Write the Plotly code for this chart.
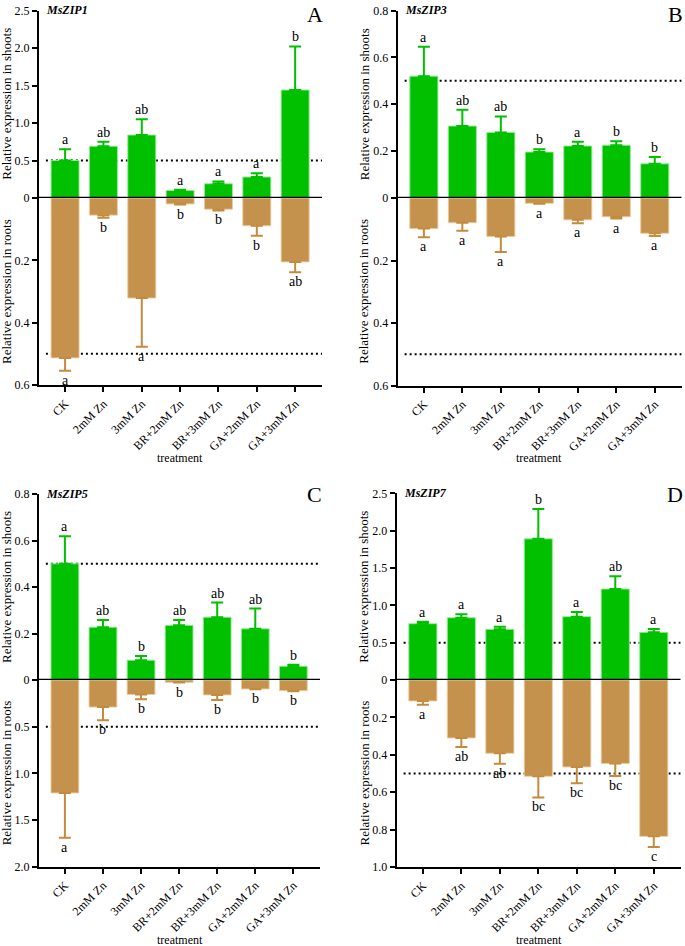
import plotly.graph_objects as go

categories = ["CK", "2mM Zn", "3mM Zn", "BR+2mM Zn", "BR+3mM Zn", "GA+2mM Zn", "GA+3mM Zn"]

# Panel A : MsZIP1
a_shoot = [0.50, 0.69, 0.84, 0.10, 0.19, 0.28, 1.44]
a_shoot_sd = [0.15, 0.06, 0.21, 0.01, 0.03, 0.05, 0.58]
a_root = [0.513, 0.055, 0.321, 0.019, 0.036, 0.089, 0.205]
a_root_sd = [0.041, 0.008, 0.156, 0.002, 0.004, 0.032, 0.033]
a_shoot_let = ["a", "ab", "ab", "a", "a", "a", "b"]
a_root_let = ["a", "b", "a", "b", "b", "b", "ab"]

# Panel B : MsZIP3
b_shoot = [0.52, 0.307, 0.28, 0.196, 0.222, 0.225, 0.146]
b_shoot_sd = [0.125, 0.07, 0.068, 0.012, 0.018, 0.017, 0.029]
b_root = [0.098, 0.079, 0.123, 0.017, 0.07, 0.06, 0.113]
b_root_sd = [0.028, 0.026, 0.05, 0.001, 0.011, 0.006, 0.009]
b_shoot_let = ["a", "ab", "ab", "b", "a", "b", "b"]
b_root_let = ["a", "a", "a", "a", "a", "a", "a"]

# Panel C : MsZIP5
c_shoot = [0.50, 0.227, 0.085, 0.235, 0.27, 0.22, 0.059]
c_shoot_sd = [0.118, 0.031, 0.018, 0.023, 0.063, 0.087, 0.007]
c_root = [1.21, 0.29, 0.155, 0.025, 0.16, 0.096, 0.114]
c_root_sd = [0.48, 0.14, 0.052, 0.002, 0.054, 0.004, 0.006]
c_shoot_let = ["a", "ab", "b", "ab", "ab", "ab", "b"]
c_root_let = ["a", "b", "b", "b", "b", "b", "b"]

# Panel D : MsZIP7
d_shoot = [0.754, 0.834, 0.678, 1.89, 0.848, 1.218, 0.638]
d_shoot_sd = [0.026, 0.046, 0.036, 0.40, 0.062, 0.172, 0.045]
d_root = [0.112, 0.31, 0.392, 0.515, 0.465, 0.446, 0.836]
d_root_sd = [0.02, 0.048, 0.056, 0.113, 0.087, 0.067, 0.057]
d_shoot_let = ["a", "a", "a", "b", "a", "ab", "a"]
d_root_let = ["a", "ab", "ab", "bc", "bc", "bc", "c"]

shoot_ticks_A = ["0", "0.5", "1.0", "1.5", "2.0", "2.5"]
root_ticks_A = ["0.2", "0.4", "0.6"]
shoot_ticks_B = ["0", "0.2", "0.4", "0.6", "0.8"]
root_ticks_B = ["0.2", "0.4", "0.6"]
shoot_ticks_C = ["0", "0.2", "0.4", "0.6", "0.8"]
root_ticks_C = ["0.5", "1.0", "1.5", "2.0"]
shoot_ticks_D = ["0", "0.5", "1.0", "1.5", "2.0", "2.5"]
root_ticks_D = ["0.2", "0.4", "0.6", "0.8", "1.0"]

W, H = 685, 946
FONT = "Liberation Serif, Times New Roman, serif"
GREEN = "#00C000"
TAN = "#C4924C"
TAN_ERR = "#C48A3E"


def fx(p):
    return p / W


def fy(p):
    return 1 - p / H


panels = [
    dict(gene="MsZIP1", tag="A", shoot=a_shoot, ssd=a_shoot_sd, root=a_root, rsd=a_root_sd,
         slet=a_shoot_let, rlet=a_root_let, sticks=shoot_ticks_A, rticks=root_ticks_A,
         x0=39, x1=322, top=10.5, mid=198, bot=385, title_x=6.5, tag_x=315, tag_y=0,
         treat_x=180, treat_y=458),
    dict(gene="MsZIP3", tag="B", shoot=b_shoot, ssd=b_shoot_sd, root=b_root, rsd=b_root_sd,
         slet=b_shoot_let, rlet=b_root_let, sticks=shoot_ticks_B, rticks=root_ticks_B,
         x0=397.7, x1=681.7, top=10.5, mid=198, bot=385.5, title_x=364, tag_x=675, tag_y=0,
         treat_x=539, treat_y=458),
    dict(gene="MsZIP5", tag="C", shoot=c_shoot, ssd=c_shoot_sd, root=c_root, rsd=c_root_sd,
         slet=c_shoot_let, rlet=c_root_let, sticks=shoot_ticks_C, rticks=root_ticks_C,
         x0=39, x1=320, top=494, mid=680, bot=866.7, title_x=6, tag_x=314, tag_y=480,
         treat_x=180, treat_y=940),
    dict(gene="MsZIP7", tag="D", shoot=d_shoot, ssd=d_shoot_sd, root=d_root, rsd=d_root_sd,
         slet=d_shoot_let, rlet=d_root_let, sticks=shoot_ticks_D, rticks=root_ticks_D,
         x0=396.7, x1=680.7, top=493.3, mid=680, bot=867, title_x=364, tag_x=675, tag_y=480,
         treat_x=539, treat_y=940),
]

fig = go.Figure()
layout = {}
annotations = []
shapes = []
XR = [-0.68, 6.7]

for i, p in enumerate(panels):
    k = i + 1
    xa = "x" if k == 1 else f"x{k}"
    ys_id = 2 * k - 1
    yr_id = 2 * k
    ys = "y" if ys_id == 1 else f"y{ys_id}"
    yr = f"y{yr_id}"

    svals = [float(t) for t in p["sticks"]]
    rvals = [float(t) for t in p["rticks"]]

    fig.add_trace(go.Bar(
        x=categories, y=p["shoot"], xaxis=xa, yaxis=ys, width=0.73,
        marker=dict(color=GREEN, line=dict(color="rgba(150,235,150,0.9)", width=1)),
        error_y=dict(type="data", array=p["ssd"], arrayminus=[0] * 7, symmetric=False,
                     color=GREEN, thickness=2, width=6),
        showlegend=False, hoverinfo="skip"))
    fig.add_trace(go.Bar(
        x=categories, y=p["root"], xaxis=xa, yaxis=yr, width=0.73,
        marker=dict(color=TAN, line=dict(color="rgba(235,205,155,0.9)", width=1)),
        error_y=dict(type="data", array=p["rsd"], arrayminus=[0] * 7, symmetric=False,
                     color=TAN_ERR, thickness=2, width=6),
        showlegend=False, hoverinfo="skip"))

    layout[("xaxis" if k == 1 else f"xaxis{k}")] = dict(
        domain=[fx(p["x0"]), fx(p["x1"])], anchor=yr, range=XR, type="category",
        categoryorder="array", categoryarray=categories,
        showline=True, linecolor="black", linewidth=2, ticks="outside", ticklen=5,
        tickwidth=1.5, tickcolor="black", tickangle=-45, automargin=False,
        tickfont=dict(family=FONT, size=12, color="black"), showgrid=False, zeroline=False)
    layout[("yaxis" if ys_id == 1 else f"yaxis{ys_id}")] = dict(
        domain=[fy(p["mid"]), fy(p["top"])], anchor=xa, range=[0, svals[-1]],
        tickvals=svals, ticktext=p["sticks"], showline=True, linecolor="black", linewidth=2,
        ticks="outside", ticklen=5, tickwidth=1.5, tickcolor="black", automargin=False,
        tickfont=dict(family=FONT, size=12, color="black"), showgrid=False, zeroline=False)
    layout[f"yaxis{yr_id}"] = dict(
        domain=[fy(p["bot"]), fy(p["mid"])], anchor=xa, range=[rvals[-1], 0],
        tickvals=rvals, ticktext=p["rticks"], showline=True, linecolor="black", linewidth=2,
        ticks="outside", ticklen=5, tickwidth=1.5, tickcolor="black", automargin=False,
        tickfont=dict(family=FONT, size=12, color="black"), showgrid=False, zeroline=False)

    # reference dotted lines at 0.5
    for yy in (ys, yr):
        shapes.append(dict(type="line", xref=xa, yref=yy, x0=-0.5, x1=XR[1], y0=0.5, y1=0.5,
                           layer="below", line=dict(color="black", width=2, dash="2px,3px")))
    # zero line
    shapes.append(dict(type="line", xref=xa, yref=ys, x0=XR[0], x1=XR[1], y0=0, y1=0,
                       layer="above", line=dict(color="black", width=2.5)))

    # significance letters
    for c, v, s, t in zip(categories, p["shoot"], p["ssd"], p["slet"]):
        annotations.append(dict(x=c, y=v + s, xref=xa, yref=ys, text=t, showarrow=False,
                                yanchor="bottom", yshift=0,
                                font=dict(family=FONT, size=14, color="black")))
    for c, v, s, t in zip(categories, p["root"], p["rsd"], p["rlet"]):
        annotations.append(dict(x=c, y=v + s, xref=xa, yref=yr, text=t, showarrow=False,
                                yanchor="top", yshift=0,
                                font=dict(family=FONT, size=14, color="black")))

    # axis titles
    annotations.append(dict(x=fx(p["title_x"]), y=fy((p["top"] + p["mid"]) / 2), xref="paper",
                            yref="paper", text="Relative expression in shoots", textangle=-90,
                            showarrow=False, xanchor="center", yanchor="middle",
                            font=dict(family=FONT, size=13, color="black")))
    annotations.append(dict(x=fx(p["title_x"]), y=fy((p["mid"] + p["bot"]) / 2), xref="paper",
                            yref="paper", text="Relative expression in roots", textangle=-90,
                            showarrow=False, xanchor="center", yanchor="middle",
                            font=dict(family=FONT, size=13, color="black")))
    # gene name
    annotations.append(dict(x=fx(p["x0"] + 5), y=fy(p["top"]), xref="paper", yref="paper",
                            text=f"<b><i>{p['gene']}</i></b>", showarrow=False,
                            xanchor="left", yanchor="middle",
                            font=dict(family=FONT, size=12, color="black")))
    # panel tag
    annotations.append(dict(x=fx(p["tag_x"]), y=fy(p["tag_y"]), xref="paper", yref="paper",
                            text=p["tag"], showarrow=False, xanchor="center", yanchor="top",
                            font=dict(family=FONT, size=22, color="black")))
    # x title
    annotations.append(dict(x=fx(p["treat_x"]), y=fy(p["treat_y"]), xref="paper", yref="paper",
                            text="treatment", showarrow=False, xanchor="center", yanchor="middle",
                            font=dict(family=FONT, size=12, color="black")))

fig.update_layout(**layout)
fig.update_layout(width=W, height=H, margin=dict(l=0, r=0, t=0, b=0, pad=0, autoexpand=False),
                  paper_bgcolor="white", plot_bgcolor="white", bargap=0.27,
                  annotations=annotations, shapes=shapes, showlegend=False)

fig.write_html("out.html", config={"displayModeBar": False},
               post_script="document.body.style.margin='0';document.body.style.overflow='hidden';")
